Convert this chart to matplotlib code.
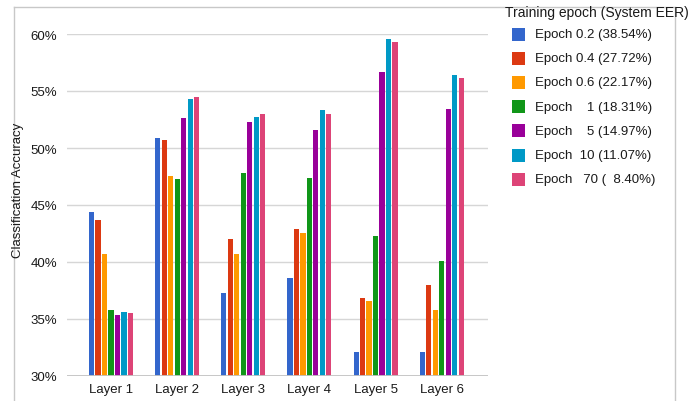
import matplotlib
matplotlib.use("Agg")
import matplotlib.pyplot as plt
from matplotlib.patches import Rectangle
from matplotlib.lines import Line2D
import numpy as np

plt.rcParams['font.family'] = ['Liberation Sans', 'DejaVu Sans']

categories = ["Layer 1", "Layer 2", "Layer 3", "Layer 4", "Layer 5", "Layer 6"]
series_labels = ["Epoch 0.2 (38.54%)", "Epoch 0.4 (27.72%)", "Epoch 0.6 (22.17%)",
                 "Epoch    1 (18.31%)", "Epoch    5 (14.97%)", "Epoch  10 (11.07%)",
                 "Epoch   70 (  8.40%)"]
epoch_02 = [44.36, 50.90, 37.28, 38.60, 32.08, 32.08]
epoch_04 = [43.65, 50.73, 41.99, 42.87, 36.87, 38.00]
epoch_06 = [40.67, 47.51, 40.67, 42.57, 36.58, 35.82]
epoch_1 = [35.82, 47.25, 47.81, 47.40, 42.28, 40.06]
epoch_5 = [35.32, 52.63, 52.25, 51.58, 56.69, 53.42]
epoch_10 = [35.64, 54.27, 52.75, 53.30, 59.56, 56.40]
epoch_70 = [35.53, 54.47, 53.00, 53.00, 59.33, 56.11]
series = [epoch_02, epoch_04, epoch_06, epoch_1, epoch_5, epoch_10, epoch_70]
colors = ["#3366cc", "#dc3912", "#ff9900", "#109618", "#990099", "#0099c6", "#dd4477"]
yticks = [30, 35, 40, 45, 50, 55, 60]
ytick_labels = ["30%", "35%", "40%", "45%", "50%", "55%", "60%"]
legend_title = "Training epoch (System EER)"
ylabel = "Classification Accuracy"

W, H = 700, 402
fs = 9.5
tc = "#1a1a1a"
fig = plt.figure(figsize=(7.0, 4.02), dpi=100)
ax = fig.add_axes([67 / W, 1 - 377 / H, (488 - 67) / W, (377 - 35) / H])

x = np.arange(len(categories))
step = 6.5 / 66.3
bw = 5.2 / 66.3
n = len(series)
for i, (vals, c) in enumerate(zip(series, colors)):
    offs = (i - (n - 1) / 2) * step
    ax.bar(x + offs, np.array(vals) - 30, bottom=30, width=bw, color=c, zorder=3, linewidth=0)

ax.set_ylim(30, 60)
ax.set_xlim(-0.665, 5.70)
ax.set_yticks(yticks)
ax.set_yticklabels(ytick_labels, fontsize=fs, color=tc)
ax.set_xticks(x)
ax.set_xticklabels(categories, fontsize=fs, color=tc)
ax.tick_params(axis='both', length=0)
ax.tick_params(axis='y', pad=7)
ax.tick_params(axis='x', pad=5)
for s in ax.spines.values():
    s.set_visible(False)
ax.grid(axis='y', color="#d6d6d6", linewidth=1, zorder=0)
ax.axhline(30, color="#c4c4c4", linewidth=1.3, zorder=4)

fig.text(18 / W, 1 - 190 / H, ylabel, rotation=90, ha='center', va='center',
         fontsize=fs, color=tc)

# frame lines
fc = "#c8c8c8"
fig.add_artist(Line2D([14 / W, 675 / W], [1 - 8 / H, 1 - 8 / H], color=fc, lw=1, transform=fig.transFigure))
fig.add_artist(Line2D([14 / W, 14 / W], [1 - 8 / H, 0], color=fc, lw=1, transform=fig.transFigure))
fig.add_artist(Line2D([675 / W, 675 / W], [1 - 8 / H, 0], color=fc, lw=1, transform=fig.transFigure))

# legend
fig.text(505 / W, 1 - 13 / H, legend_title, ha='left', va='center', fontsize=10, color=tc)
for i, (lab, c) in enumerate(zip(series_labels, colors)):
    yc = 35 + i * 24.2
    fig.add_artist(Rectangle((512 / W, 1 - (yc + 6.5) / H), 13 / W, 13 / H, color=c,
                             transform=fig.transFigure, linewidth=0))
    fig.text(535 / W, 1 - yc / H, lab, ha='left', va='center', fontsize=fs, color=tc)

fig.savefig("out.png", dpi=100, facecolor="white")
